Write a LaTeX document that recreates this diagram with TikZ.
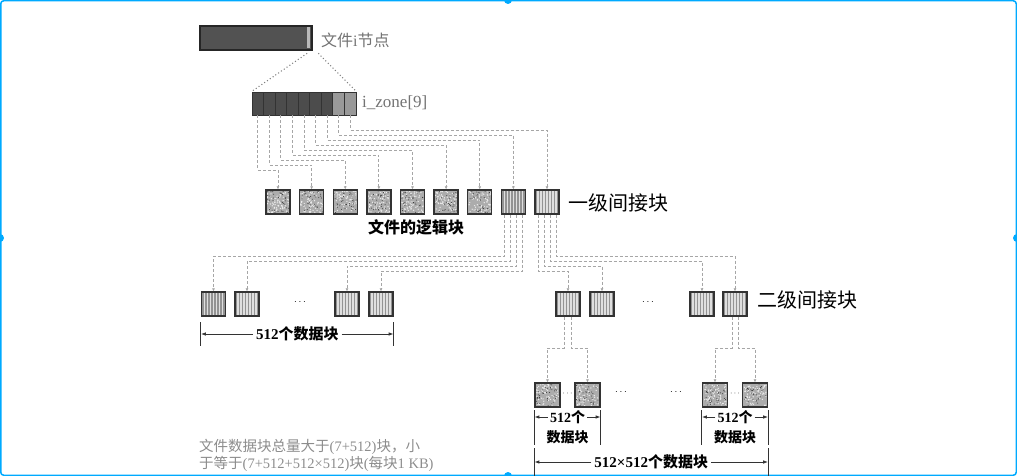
\documentclass[tikz,border=0pt]{standalone}
\usepackage{fontspec}
\setmainfont{Liberation Serif}
\newfontfamily\cjk{Noto Sans CJK SC}
\usetikzlibrary{arrows.meta,calc}
\newcommand\myfs[1]{\fontsize{#1}{#1}\selectfont}
\definecolor{framec}{HTML}{00AAFF}
\tikzset{
  blk/.style={draw=black!80, line width=1.3pt, minimum width=24pt, minimum height=24pt, inner sep=0pt},
  stripe/.style={blk, fill=gray!85, path picture={
     \foreach \k in {-9,-6,...,9}{\draw[white!75!gray, line width=1.1pt]
       ([xshift=\k pt]path picture bounding box.north) -- ([xshift=\k pt]path picture bounding box.south);}}},
  speck/.style={blk, fill=gray!65, path picture={
     \foreach \k in {1,...,70}{\fill[white!85!gray] ($(path picture bounding box.center)+({11*rand},{11*rand})$) circle (0.7);}
     \foreach \k in {1,...,35}{\fill[gray!40!black] ($(path picture bounding box.center)+({11*rand},{11*rand})$) circle (0.5);}}},
  cell/.style={draw=black!80, line width=0.9pt, minimum width=11.556pt, minimum height=23pt, inner sep=0pt},
  dl/.style={draw=gray!70, dash pattern=on 3pt off 2pt, line width=0.9pt},
  arr/.style={dl, -{Latex[length=3pt,width=3pt]}},
  dotl/.style={draw=black!50, line width=1.5pt, line cap=round, dash pattern=on 0pt off 3.4pt},
  dimarr/.style={draw=black!80, line width=0.8pt, -{Latex[length=5pt,width=3.5pt]}},
  tickl/.style={draw=black!80, line width=0.8pt},
  lbl/.style={inner sep=1pt},
}
\begin{document}
\begin{tikzpicture}[x=1pt,y=-1pt]
\useasboundingbox (0,0) rectangle (1017,476);
% frame
\draw[framec, line width=1.5pt, rounded corners=3pt] (0.75,0.75) rectangle (1016.25,475.25);
\fill[framec] (508,0) circle (4);
\fill[framec] (508,476) circle (4);
\fill[framec] (0,238) circle (4);
\fill[framec] (1017,238) circle (4);

% inode
\node[draw=black!85, line width=1.3pt, fill=black!68, minimum width=112pt, minimum height=24pt, inner sep=0pt] (inode) at (256,38) {};
\fill[gray!55] (306.5,27.5) rectangle (309.5,48.5);
\node[lbl, anchor=west, text=black!55] (tinode) at (320,40) {\myfs{16}{\cjk 文件}i{\cjk 节点}};

% i_zone cells
\foreach \i in {1,...,7}{
  \node[cell, fill=black!70] (z\i) at ({252+11.556*(\i-0.5)},103.5) {};
}
\foreach \i in {8,9}{
  \node[cell, fill=gray!80] (z\i) at ({252+11.556*(\i-0.5)},103.5) {};
}
\node[lbl, anchor=west, text=black!55] (tzone) at (361,103) {\myfs{17}i\_zone[9]};

% dotted fan
\coordinate (ps1) at ($(inode.south east)+(-6,3)$);
\coordinate (ps2) at ($(inode.south east)+(6,3)$);
\draw[dotl] (ps1) -- (z1.north west);
\draw[dotl] (ps2) -- (z9.north east);

% logical blocks
\foreach \i in {1,...,7}{
  \node[speck] (L\i) at ({278+33.625*(\i-1)},202) {};
}
\foreach \i in {8,9}{
  \node[stripe] (L\i) at ({278+33.625*(\i-1)},202) {};
}
\node[lbl] (tlog) at (416,227) {\myfs{16}\cjk\bfseries 文件的逻辑块};
\node[lbl, anchor=west] (tl1) at (567,203) {\myfs{20}\cjk 一级间接块};

% i_zone -> logical blocks
\foreach \i in {1,...,9}{
  \pgfmathsetmacro\lv{170-5*(\i-1)}
  \draw[arr] (z\i.south) |- (L\i.north |- 0,\lv) -- (L\i.north);
}

% second level blocks
\foreach \n/\x in {A1/213.5,A2/247,A3/347,A4/381,B1/568,B2/602,B3/702,B4/735}{
  \node[stripe] (\n) at (\x,304) {};
}
\node[lbl] (dA) at (300,302) {$\cdots$};
\node[lbl] (dB) at (648,302) {$\cdots$};
\node[lbl, anchor=west] (tl2) at (756,300) {\myfs{20}\cjk 二级间接块};

% L8 -> A
\foreach \o/\tg/\lv in {-9/A1/256,-3/A2/261,3/A3/266,9/A4/271}{
  \draw[arr] ($(L8.south)+(\o,0)$) |- (\tg.north |- 0,\lv) -- (\tg.north);
}
% L9 -> B
\foreach \o/\tg/\lv in {9/B4/256,3/B3/261,-3/B2/266,-9/B1/271}{
  \draw[arr] ($(L9.south)+(\o,0)$) |- (\tg.north |- 0,\lv) -- (\tg.north);
}

% left dimension
\coordinate (dl1) at (A1.west |- 0,334);
\coordinate (dl2) at (A4.east |- 0,334);
\draw[tickl] ($(dl1)+(0,-12)$) -- ($(dl1)+(0,12)$);
\draw[tickl] ($(dl2)+(0,-12)$) -- ($(dl2)+(0,12)$);
\node[inner sep=3pt] (t512) at ($(dl1)!0.5!(dl2)$) {\myfs{15}\bfseries 512{\cjk 个数据块}};
\draw[dimarr] (t512.west) -- (dl1);
\draw[dimarr] (t512.east) -- (dl2);

% third level blocks
\foreach \n/\x in {C1/547.5,C2/587.5,C3/715,C4/755}{
  \node[speck, minimum width=25pt] (\n) at (\x,395) {};
}
\node[inner sep=0pt] (dC1) at (567.5,394) {\myfs{8}$\cdots$};
\node[inner sep=0pt] (dC2) at (735,394) {\myfs{8}$\cdots$};
\node[lbl] (dC3) at (621,392) {$\cdots$};
\node[lbl] (dC4) at (676,392) {$\cdots$};

\foreach \o/\tg in {-4/C1,3/C2}{
  \draw[arr] ($(B1.south)+(\o,0)$) |- (\tg.north |- 0,348) -- (\tg.north);
}
\foreach \o/\tg in {-3/C3,3/C4}{
  \draw[arr] ($(B4.south)+(\o,0)$) |- (\tg.north |- 0,348) -- (\tg.north);
}

% small dimensions
\foreach \a/\b/\s in {C1/C2/1,C3/C4/2}{
  \coordinate (sa\s) at (\a.west |- 0,417);
  \coordinate (sb\s) at (\b.east |- 0,417);
  \draw[tickl] ($(sa\s)+(0,-7)$) -- ($(sa\s)+(0,28)$);
  \draw[tickl] ($(sb\s)+(0,-7)$) -- ($(sb\s)+(0,28)$);
  \node[inner sep=2pt] (sn\s) at ($(sa\s)!0.5!(sb\s)$) {\myfs{14}\bfseries 512{\cjk 个}};
  \node[inner sep=1pt] (sm\s) at ($(sa\s)!0.5!(sb\s)+(0,20)$) {\myfs{14}\cjk\bfseries 数据块};
  \draw[dimarr] (sn\s.west) -- (sa\s);
  \draw[dimarr] (sn\s.east) -- (sb\s);
}

% big dimension
\coordinate (ba) at (C1.west |- 0,462);
\coordinate (bb) at (C4.east |- 0,462);
\draw[tickl] ($(ba)+(0,-14)$) -- ($(ba)+(0,14)$);
\draw[tickl] ($(bb)+(0,-14)$) -- ($(bb)+(0,14)$);
\node[inner sep=3pt] (tbig) at ($(ba)!0.5!(bb)$) {\myfs{15}\bfseries 512×512{\cjk 个数据块}};
\draw[dimarr] (tbig.west) -- (ba);
\draw[dimarr] (tbig.east) -- (bb);

% note
\node[anchor=north west, align=left, inner sep=0pt, text=black!45,
      font=\fontsize{14.5}{17.5}\selectfont] (note) at (199,439)
  {{\cjk 文件数据块总量大于}(7+512){\cjk 块，小}\\
   {\cjk 于等于}(7+512+512×512){\cjk 块}({\cjk 每块}1 KB)};
\end{tikzpicture}
\end{document}
